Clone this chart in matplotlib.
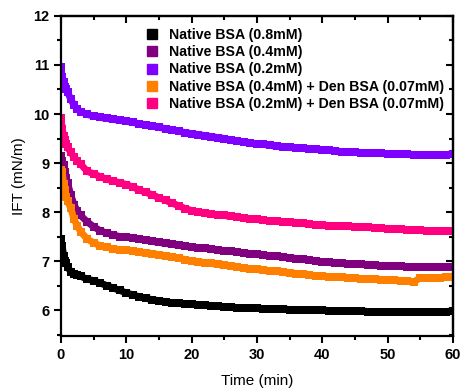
import matplotlib
matplotlib.use("Agg")
import matplotlib.pyplot as plt
from matplotlib.ticker import MultipleLocator

plt.rcParams['font.family'] = ['Liberation Sans', 'DejaVu Sans']

time_min = [0, 0.2, 0.4, 0.6, 0.8, 1.0, 1.5, 2, 2.5] + list(range(3, 61))

native_08 = [7.45, 7.3, 7.1, 7.0, 6.95, 6.88, 6.78, 6.73, 6.71,
             6.69, 6.63, 6.6, 6.55, 6.5, 6.45, 6.4, 6.35, 6.31, 6.27,
             6.24, 6.21, 6.19, 6.17, 6.15, 6.14, 6.13, 6.12, 6.11, 6.1,
             6.09, 6.08, 6.07, 6.06, 6.05, 6.05, 6.04, 6.04, 6.03, 6.03,
             6.02, 6.02, 6.01, 6.01, 6.0, 6.0, 6.0, 6.0, 5.99, 5.99,
             5.99, 5.98, 5.98, 5.98, 5.97, 5.97, 5.97, 5.97, 5.97, 5.97,
             5.97, 5.97, 5.97, 5.97, 5.97, 5.97, 5.97, 5.98]

native_04 = [9.15, 9.05, 8.95, 8.82, 8.7, 8.6, 8.35, 8.15, 8.02,
             7.93, 7.8, 7.7, 7.62, 7.57, 7.53, 7.5, 7.49, 7.47, 7.45,
             7.43, 7.4, 7.38, 7.36, 7.34, 7.32, 7.3, 7.29, 7.27, 7.26,
             7.24, 7.23, 7.21, 7.2, 7.18, 7.17, 7.15, 7.14, 7.12, 7.11,
             7.1, 7.08, 7.07, 7.05, 7.04, 7.02, 7.0, 6.98, 6.97, 6.96,
             6.95, 6.94, 6.93, 6.93, 6.92, 6.91, 6.9, 6.9, 6.89, 6.89,
             6.88, 6.88, 6.88, 6.87, 6.87, 6.87, 6.87, 6.88]

native_02 = [10.95, 10.75, 10.65, 10.55, 10.5, 10.45, 10.3, 10.18, 10.1,
             10.05, 9.99, 9.96, 9.93, 9.91, 9.89, 9.87, 9.85, 9.83, 9.8,
             9.78, 9.75, 9.73, 9.7, 9.67, 9.65, 9.62, 9.6, 9.58, 9.56,
             9.54, 9.52, 9.5, 9.47, 9.45, 9.43, 9.41, 9.39, 9.38, 9.36,
             9.34, 9.33, 9.32, 9.31, 9.3, 9.29, 9.28, 9.27, 9.26, 9.25,
             9.23, 9.23, 9.22, 9.21, 9.2, 9.2, 9.2, 9.19, 9.19, 9.18,
             9.18, 9.17, 9.17, 9.17, 9.16, 9.17, 9.17, 9.19]

mix_04_den = [8.85, 8.82, 8.57, 8.45, 8.31, 8.22, 8.08, 7.85, 7.72,
              7.6, 7.45, 7.37, 7.31, 7.28, 7.25, 7.23, 7.22, 7.2, 7.18,
              7.16, 7.15, 7.13, 7.1, 7.08, 7.06, 7.03, 7.0, 6.98, 6.96,
              6.95, 6.93, 6.91, 6.9, 6.88, 6.86, 6.84, 6.83, 6.81, 6.8,
              6.79, 6.78, 6.76, 6.74, 6.73, 6.72, 6.7, 6.69, 6.68, 6.68,
              6.67, 6.66, 6.65, 6.64, 6.64, 6.63, 6.62, 6.62, 6.61, 6.6,
              6.59, 6.57, 6.66, 6.66, 6.66, 6.66, 6.67, 6.67]

mix_02_den = [9.92, 9.7, 9.55, 9.47, 9.38, 9.32, 9.22, 9.12, 9.04,
              8.98, 8.83, 8.78, 8.72, 8.67, 8.63, 8.6, 8.56, 8.51, 8.45,
              8.4, 8.35, 8.29, 8.24, 8.18, 8.13, 8.07, 8.03, 8.0, 7.98,
              7.96, 7.94, 7.93, 7.91, 7.9, 7.88, 7.86, 7.85, 7.83, 7.82,
              7.81, 7.8, 7.79, 7.78, 7.77, 7.75, 7.74, 7.73, 7.72, 7.72,
              7.71, 7.71, 7.7, 7.69, 7.69, 7.68, 7.67, 7.66, 7.65, 7.65,
              7.64, 7.63, 7.63, 7.62, 7.62, 7.61, 7.61, 7.62]

labels = ["Native BSA (0.8mM)", "Native BSA (0.4mM)", "Native BSA (0.2mM)",
          "Native BSA (0.4mM) + Den BSA (0.07mM)",
          "Native BSA (0.2mM) + Den BSA (0.07mM)"]
colors = ["#000000", "#800080", "#8000FF", "#FF8000", "#FF0080"]
series = [native_08, native_04, native_02, mix_04_den, mix_02_den]

fig = plt.figure(figsize=(4.63, 3.88), dpi=100)
ax = fig.add_axes([0.1317, 0.134, 0.8466, 0.8248])

for vals, col, lab in zip(series, colors, labels):
    ax.plot(time_min, vals, color=col, lw=5, marker='s', ms=5.5,
            markeredgewidth=0, solid_capstyle='butt')
    ax.plot([], [], color=col, ls='none', marker='s', ms=6.5, label=lab)

ax.set_xlim(0, 60)
ax.set_ylim(5.47, 12)
ax.xaxis.set_major_locator(MultipleLocator(10))
ax.xaxis.set_minor_locator(MultipleLocator(5))
ax.yaxis.set_major_locator(MultipleLocator(1))
ax.yaxis.set_minor_locator(MultipleLocator(0.5))

for s in ax.spines.values():
    s.set_linewidth(1.6)

ax.tick_params(which='both', direction='out', width=1.5, top=False, right=False)
ax.tick_params(which='major', length=5, labelsize=10.5)
ax.tick_params(which='minor', length=3)
for lbl in ax.get_xticklabels() + ax.get_yticklabels():
    lbl.set_fontweight('bold')

# top & right inward ticks
axt = ax.secondary_xaxis('top')
axt.xaxis.set_major_locator(MultipleLocator(10))
axt.xaxis.set_minor_locator(MultipleLocator(5))
axt.tick_params(which='both', direction='in', width=1.5, labeltop=False)
axt.tick_params(which='major', length=5)
axt.tick_params(which='minor', length=3)
axr = ax.secondary_yaxis('right')
axr.yaxis.set_major_locator(MultipleLocator(1))
axr.yaxis.set_minor_locator(MultipleLocator(0.5))
axr.tick_params(which='both', direction='in', width=1.5, labelright=False)
axr.tick_params(which='major', length=5)
axr.tick_params(which='minor', length=3)
axt.spines['top'].set_linewidth(1.6)
axr.spines['right'].set_linewidth(1.6)

ax.set_xlabel("Time (min)", fontsize=11, labelpad=9)
ax.set_ylabel("IFT (mN/m)", fontsize=11, labelpad=5)

leg = ax.legend(loc='upper right', bbox_to_anchor=(1.0, 0.99), frameon=False,
                prop={'size': 10.2, 'weight': 'bold'}, handlelength=0.8,
                handletextpad=0.8, labelspacing=0.24, borderaxespad=0.2)

fig.savefig("out.png", dpi=100)
